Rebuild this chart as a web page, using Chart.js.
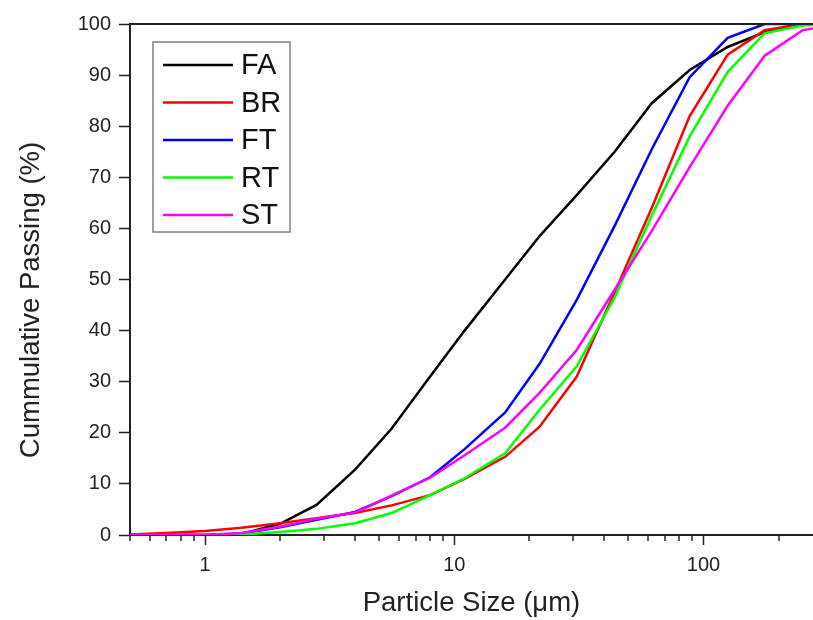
<!DOCTYPE html>
<html>
<head>
<meta charset="utf-8">
<script src="https://cdn.jsdelivr.net/npm/chart.js@4.4.1/dist/chart.umd.min.js"></script>
<style>
  html, body { margin: 0; padding: 0; background: #fff; }
  canvas { display: block; }
</style>
</head>
<body>
<canvas id="psdChart" width="813" height="620"></canvas>
<script>
// particle size classes (um)
const sizes = [0.5, 0.7, 1, 1.4, 2, 2.8, 4, 5.6, 8, 11, 16, 22, 31, 44, 62, 88, 125, 176, 250, 350];

// cumulative passing (%) per material
const fa = [0, 0, 0, 0.2, 2.2, 5.9, 12.8, 20.8, 31, 40, 50, 58.5, 66.5, 75, 84.5, 91, 95.5, 98.4, 100, 100];
const br = [0.1, 0.4, 0.8, 1.4, 2.3, 3.3, 4.3, 5.8, 7.8, 11, 15.3, 21.2, 31, 47.5, 64, 82, 94, 98.8, 100, 100];
const ft = [0, 0, 0, 0.3, 1.5, 3, 4.5, 7.6, 11.3, 16.8, 24, 33.5, 46, 60.5, 75.5, 89.6, 97.3, 100, 100, 100];
const rt = [0, 0, 0, 0.1, 0.6, 1.2, 2.3, 4.3, 7.8, 11.1, 16, 24.5, 33, 46.5, 62.5, 78, 90.6, 98.2, 99.7, 100];
const st = [0, 0, 0, 0.4, 1.6, 3.2, 4.4, 7.7, 11.2, 15.6, 21, 27.8, 36.2, 48, 59.5, 72, 84, 93.8, 98.8, 100];

const seriesNames = ["FA", "BR", "FT", "RT", "ST"];
const seriesColors = ["#000000", "#ff0000", "#0000ff", "#00ff00", "#ff00ff"];

// axis ticks
const xMajorTicks = [1, 10, 100];
const xMinorTicks = [0.5, 0.6, 0.7, 0.8, 0.9, 2, 3, 4, 5, 6, 7, 8, 9, 20, 30, 40, 50, 60, 70, 80, 90, 200];
const yTicks = [0, 10, 20, 30, 40, 50, 60, 70, 80, 90, 100];

const FONT = "'Liberation Sans', Arial, Helvetica, sans-serif";
Chart.defaults.font.family = FONT;
Chart.defaults.color = "#222";

function toPoints(values) {
  return sizes.map((s, i) => ({ x: s, y: values[i] }));
}

// top frame line, minor log ticks, y title and the boxed legend inside the plot
const frameAndLegend = {
  id: "frameAndLegend",
  afterDraw(chart) {
    const { ctx, chartArea: a, scales } = chart;
    ctx.save();
    ctx.strokeStyle = "#222";
    ctx.lineWidth = 2;
    ctx.beginPath();
    ctx.moveTo(a.left, a.top);
    ctx.lineTo(a.right, a.top);
    ctx.stroke();

    ctx.lineWidth = 1.5;
    xMinorTicks.forEach((v) => {
      const px = Math.round(scales.x.getPixelForValue(v));
      ctx.beginPath();
      ctx.moveTo(px, a.bottom);
      ctx.lineTo(px, a.bottom + 6);
      ctx.stroke();
    });

    // y axis title, sitting a bit below the middle of the axis
    ctx.save();
    ctx.translate(31, 300);
    ctx.rotate(-Math.PI / 2);
    ctx.font = "27.5px " + FONT;
    ctx.fillStyle = "#222";
    ctx.textAlign = "center";
    ctx.textBaseline = "middle";
    ctx.fillText("Cummulative Passing (%)", 0, 0);
    ctx.restore();

    const bx = a.left + 23;
    const by = a.top + 18;
    ctx.strokeStyle = "#808080";
    ctx.lineWidth = 1.5;
    ctx.strokeRect(bx, by, 137, 190);

    ctx.font = "29px " + FONT;
    ctx.textBaseline = "middle";
    ctx.fillStyle = "#111";
    chart.data.datasets.forEach((ds, i) => {
      const y = by + 23 + i * 37.5;
      ctx.strokeStyle = ds.borderColor;
      ctx.lineWidth = 2.5;
      ctx.beginPath();
      ctx.moveTo(bx + 10, y);
      ctx.lineTo(bx + 80, y);
      ctx.stroke();
      ctx.fillText(ds.label, bx + 88, y + 1);
    });
    ctx.restore();
  },
};

const seriesData = [fa, br, ft, rt, st];

new Chart(document.getElementById("psdChart"), {
  type: "line",
  data: {
    datasets: seriesData.map((vals, i) => ({
      label: seriesNames[i],
      data: toPoints(vals),
      borderColor: seriesColors[i],
      backgroundColor: seriesColors[i],
      borderWidth: 2.5,
      pointRadius: 0,
      tension: 0,
      order: seriesData.length - i,
    })),
  },
  options: {
    responsive: false,
    animation: false,
    devicePixelRatio: 1,
    layout: { padding: { top: 24, right: 0, bottom: 0, left: 0 } },
    plugins: {
      legend: { display: false },
      tooltip: { enabled: false },
    },
    scales: {
      x: {
        type: "logarithmic",
        min: 0.5,
        max: 275,
        afterBuildTicks: (s) => {
          s.ticks = xMajorTicks.map((v) => ({ value: v }));
        },
        afterFit: (s) => {
          s.height = 85;
        },
        ticks: {
          callback: (v) => (xMajorTicks.includes(v) ? String(v) : ""),
          font: { size: 20 },
          color: "#222",
          padding: 8,
          maxRotation: 0,
          autoSkip: false,
        },
        grid: { drawOnChartArea: false, tickLength: 10, tickColor: "#222", tickWidth: 1.5 },
        border: { color: "#222", width: 2 },
        title: {
          display: true,
          text: "Particle Size (μm)",
          font: { size: 27.5 },
          color: "#222",
          padding: { top: 0, bottom: 0 },
        },
      },
      y: {
        min: 0,
        max: 100,
        afterBuildTicks: (s) => {
          s.ticks = yTicks.map((v) => ({ value: v }));
        },
        afterFit: (s) => {
          s.width = 130;
        },
        ticks: { font: { size: 20 }, color: "#222", padding: 8 },
        grid: { drawOnChartArea: false, tickLength: 11, tickColor: "#222", tickWidth: 1.5 },
        border: { color: "#222", width: 2 },
      },
    },
  },
  plugins: [frameAndLegend],
});
</script>
</body>
</html>
